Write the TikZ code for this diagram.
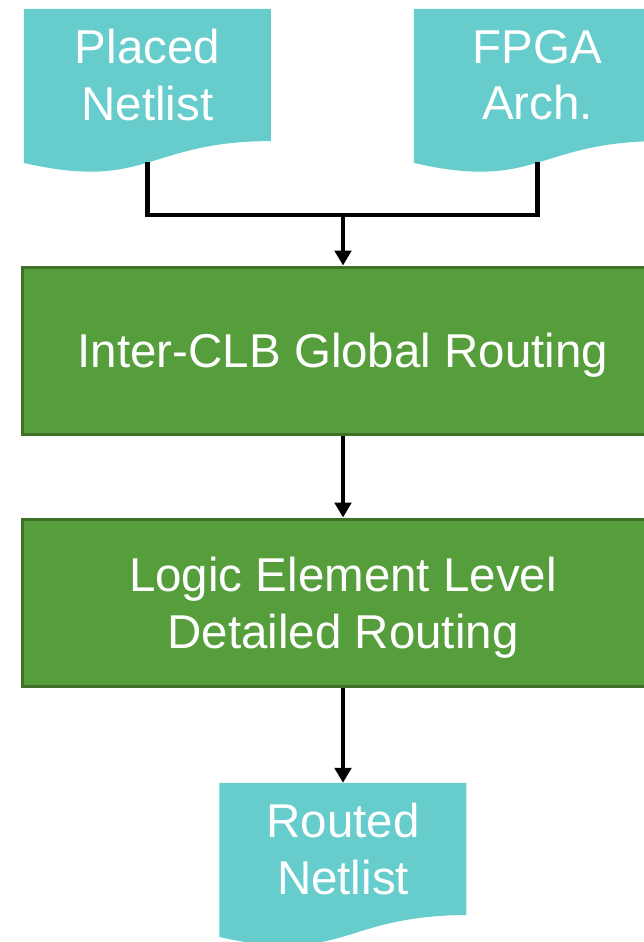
\documentclass[tikz,border=0pt]{standalone}
\usepackage{fontspec}
\setmainfont{Liberation Sans}
\usetikzlibrary{arrows.meta,backgrounds}

\definecolor{docteal}{HTML}{66CCCC}
\definecolor{stepgreen}{HTML}{559E3B}
\definecolor{stepedge}{HTML}{3F7128}

\tikzset{
  doctext/.style={rectangle, inner sep=0pt, minimum width=247pt, minimum height=132pt,
    align=center, text=white, font=\fontsize{47.5}{56.5}\selectfont},
  steptext/.style={inner sep=0pt, align=center, text=white,
    font=\fontsize{47.5}{57}\selectfont, yshift=-5pt},
  stepbox/.style={rectangle, fill=stepgreen, draw=stepedge, line width=3pt,
    minimum width=642pt, minimum height=167pt, inner sep=0pt},
  flow/.style={line width=4.8pt, draw=black},
  flowarrow/.style={flow, -{Triangle[width=16.5pt,length=15pt]}}
}

% wavy document shape behind a doctext node; also names its foot point
\newcommand{\docshape}[1]{%
  \begin{scope}[shift={(#1.north west)}]
    \fill[docteal] (0,0) -- (247,0) -- (247,132.3)
      .. controls (123.5,132.3) and (123.5,182.7) .. (0,154.1) -- cycle;
    \coordinate (#1-foot) at (123.5,153.5);
  \end{scope}}

\begin{document}
\begin{tikzpicture}[x=1pt,y=-1pt]
  \useasboundingbox (0,0) rectangle (644,942);

  % input and output documents
  \node[doctext] (placed) at (147.5,75) {Placed\\Netlist};
  \node[doctext] (arch)   at (537.5,75) {FPGA\\Arch.};
  \node[doctext] (routed) at (343,849) {Routed\\Netlist};

  % routing steps
  \node[stepbox, label={[steptext]center:Inter-CLB Global Routing}]
    (global) at (343,350.5) {};
  \node[stepbox, label={[steptext]center:Logic Element Level\\Detailed Routing}]
    (detail) at (343,602.5) {};

  \begin{pgfonlayer}{background}
    \docshape{placed}
    \docshape{arch}
    \docshape{routed}
  \end{pgfonlayer}

  % merge point of the two inputs
  \coordinate (join) at (343,215);

  \draw[flow, line join=miter] (placed-foot) -- (placed-foot |- join)
        -- (arch-foot |- join) -- (arch-foot);
  \draw[flowarrow] (join) -- (global.north);
  \draw[flowarrow] (global.south) -- (detail.north);
  \draw[flowarrow] (detail.south) -- (routed.north);
\end{tikzpicture}
\end{document}
